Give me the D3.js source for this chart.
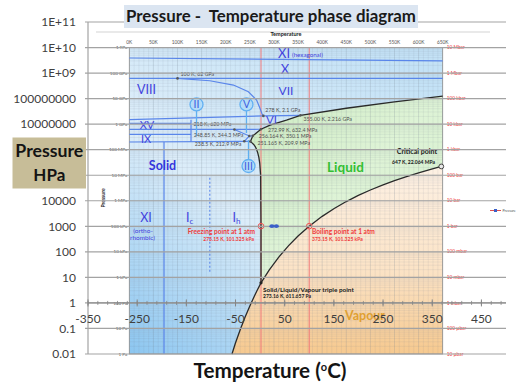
<!DOCTYPE html>
<html>
<head>
<meta charset="utf-8">
<script src="https://cdn.jsdelivr.net/npm/d3@7/dist/d3.min.js"></script>
<style>
  body { margin: 0; background: #fff; }
  svg { display: block; font-family: Lato, "Open Sans", sans-serif; }
</style>
</head>
<body>
<div id="chart"></div>
<script>
// ---- Excel chart axes (temperature in °C, pressure in hPa)
const yTickValues = [1e11, 1e10, 1e9, 1e8, 1e7, 1e6, 1e5, 1e4, 1e3, 100, 10, 1, 0.1, 0.01];
const yTickLabels = ["1E+11", "1E+10", "1E+09", "100000000", "10000000", "1000000", "100000",
                     "10000", "1000", "100", "10", "1", "0.1", "0.01"];
const xTickValues = [-350, -250, -150, -50, 50, 150, 250, 350, 450];

// Excel series "Pressure"
const seriesTemp = [24, 33];
const seriesPressure = [1013.25, 1013.25];

// ---- embedded phase diagram (kelvin, pascal)
const kelvinTicks = [0, 50, 100, 150, 200, 250, 300, 350, 400, 450, 500, 550, 600, 650];
const paTicks = [1e12, 1e11, 1e10, 1e9, 1e8, 1e7, 1e6, 1e5, 1e4, 1e3, 100, 10, 1];
const paLabels = ["1 TPa", "100 GPa", "10 GPa", "1 GPa", "100 MPa", "10 MPa", "1 MPa",
                  "100 kPa", "10 kPa", "1 kPa", "100 Pa", "10 Pa", "1 Pa"];
const barLabels = ["10 Mbar", "1 Mbar", "100 kbar", "10 kbar", "1 kbar", "100 bar", "10 bar",
                   "1 bar", "100 mbar", "10 mbar", "1 mbar", "100 µbar", "10 µbar"];

// solid / liquid boundary, from the triple point upwards
const meltK  = [273.16, 273.15, 272.4, 270.5, 268.7, 266.4, 264.2, 261.5, 258, 254.5, 251.165,
                256.164, 272.99, 292, 326, 355, 450, 550, 650];
const meltPa = [611.657, 101325, 1e7, 3e7, 5e7, 7.5e7, 1e8, 1.3e8, 1.6e8, 1.85e8, 2.099e8,
                3.501e8, 6.324e8, 9.2e8, 1.45e9, 2.216e9, 4.2e9, 7.5e9, 1.26e10];
// liquid / vapour boundary
const boilK  = [273.16, 290, 310, 330, 350, 373.15, 400, 425, 450, 475, 500, 525, 550, 575, 600, 625, 647.096];
const boilPa = [611.657, 1920, 6230, 17200, 41680, 101325, 245800, 500200, 932000, 1.618e6,
                2.639e6, 4.09e6, 6.12e6, 8.84e6, 12.34e6, 16.9e6, 22.064e6];
// solid / vapour boundary
const sublK  = [273.16, 265, 260, 250, 240, 230, 220, 213];
const sublPa = [611.657, 305, 195.8, 76, 27.3, 8.95, 2.65, 1];

// boundaries between ice phases
const iceLines = [
  [[0, 3.9e11], [650, 3.0e11]],
  [[0, 6.2e10], [650, 6.2e10]],
  [[100, 6.2e10], [167, 5.0e10], [216, 3.4e10], [247, 1.86e10], [264, 8.8e9], [271, 4.2e9], [275, 2.6e9], [278, 2.1e9]],
  [[0, 1.5e9], [278, 2.1e9], [355, 2.216e9]],
  [[0, 1.07e9], [128, 1.07e9]],
  [[0, 6.2e8], [218, 6.2e8], [272.99, 6.324e8]],
  [[218, 6.2e8], [248.85, 3.443e8], [256.164, 3.501e8]],
  [[0, 4.0e8], [128, 4.0e8]],
  [[0, 2.0e8], [238.5, 2.129e8], [251.165, 2.099e8]],
  [[238.5, 2.129e8], [248.85, 3.443e8]],
  [[128, 2.0e8], [128, 1.5e9]],
  [[72, 2.0e8], [72, 1]]
];
const icIhLine = [[167, 8e6], [167, 1.6e3]];

// labelled points
const pointK    = [100, 278, 355, 272.99, 256.164, 251.165, 218, 248.85, 238.5];
const pointPa   = [6.2e10, 2.1e9, 2.216e9, 6.324e8, 3.501e8, 2.099e8, 6.2e8, 3.443e8, 2.129e8];
const pointText = ["100 K, 62 GPa", "278 K, 2.1 GPa", "355.00 K, 2.216 GPa", "272.99 K, 632.4 MPa",
                   "256.164 K, 350.1 MPa", "251.165 K, 209.9 MPa", "218 K, 620 MPa",
                   "248.85 K, 344.3 MPa", "238.5 K, 212.9 MPa"];

// circled phase names with pointer lines
const circleText = ["II", "V", "III"];
const circleK    = [139.4, 243, 247.2];
const circlePa   = [5.9e9, 5.9e9, 2.3e7];
const pointerPa  = [3.4e8, 4.5e8, 2.4e8];

const triple   = [273.16, 611.657];
const critical = [647.096, 22.064e6];
const freezing = [273.15, 101325];
const boiling  = [373.15, 101325];

// ---------------------------------------------------------------
const W = 517, H = 388;
const svg = d3.select("#chart").append("svg").attr("width", W).attr("height", H);
const defs = svg.append("defs");

function gradient(id, x1, y1, x2, y2, stops) {
  const g = defs.append("linearGradient").attr("id", id)
    .attr("x1", x1).attr("y1", y1).attr("x2", x2).attr("y2", y2);
  stops.forEach(s => g.append("stop").attr("offset", s[0]).attr("stop-color", s[1]));
}
gradient("gSolid", 0, 1, 0.8, 0, [[0, "#8cc6f0"], [0.45, "#dcedf9"], [1, "#c4e2f6"]]);
gradient("gLiquid", 0, 0, 1, 1, [[0, "#cdebc2"], [0.5, "#def3d6"], [1, "#d3efca"]]);
gradient("gVapour", 0, 0, 0, 1, [[0, "#fdf1e4"], [0.55, "#fbe3c6"], [1, "#f6c98f"]]);

const x = d3.scaleLinear().domain([-350, 500]).range([88, 506]);
const y = d3.scaleLog().domain([0.01, 1e11]).range([354, 22]);
const kx = d3.scaleLinear().domain([0, 650]).range([129.3, 442.7]);
const py = pa => y(pa / 100);
const pts = (ks, ps) => ks.map((k, i) => [kx(k), py(ps[i])]);
const kline = d3.line().x(d => kx(d[0])).y(d => py(d[1]));

// ---- phase diagram picture
const img = svg.append("g");
const iL = kx(0), iR = kx(650), iT = py(1e12), iB = py(1);

defs.append("clipPath").attr("id", "imgClip").append("rect")
  .attr("x", iL).attr("y", iT).attr("width", iR - iL).attr("height", iB - iT);

img.append("line").attr("x1", 96).attr("x2", 490).attr("y1", 32).attr("y2", 32)
  .attr("stroke", "#c8c8c8").attr("stroke-width", 0.8);

img.append("rect").attr("x", iL).attr("y", iT).attr("width", iR - iL).attr("height", iB - iT)
  .attr("fill", "url(#gSolid)");

const meltPts = pts(meltK, meltPa);
const boilPts = pts(boilK, boilPa);
const sublPts = pts(sublK, sublPa);
const critPt = [kx(critical[0]), py(critical[1])];

const liquidPoly = meltPts.concat([[iR, py(meltPa[meltPa.length - 1])], [iR, critPt[1]]],
                                  boilPts.slice().reverse());
const vapourPoly = boilPts.concat([[iR, critPt[1]], [iR, iB]], sublPts.slice().reverse());
img.append("path").attr("d", "M" + liquidPoly.join("L") + "Z").attr("fill", "url(#gLiquid)");
img.append("path").attr("d", "M" + vapourPoly.join("L") + "Z").attr("fill", "url(#gVapour)");

// fine grid of the picture
const grid = img.append("g").attr("clip-path", "url(#imgClip)");
grid.selectAll("line.vk").data(d3.range(0, 651, 10)).join("line")
  .attr("x1", d => kx(d)).attr("x2", d => kx(d)).attr("y1", iT).attr("y2", iB)
  .attr("stroke", "#6f7f8c").attr("stroke-opacity", d => d % 50 === 0 ? 0.36 : 0.17).attr("stroke-width", 0.6);
const minorPa = [];
paTicks.slice(1).forEach(p => { for (let m = 1; m < 10; m++) minorPa.push(p * m); });
grid.selectAll("line.hp").data(minorPa).join("line")
  .attr("x1", iL).attr("x2", iR).attr("y1", d => py(d)).attr("y2", d => py(d))
  .attr("stroke", "#6f7f8c").attr("stroke-opacity", (d, i) => i % 9 === 0 ? 0.36 : 0.17).attr("stroke-width", 0.6);

// 0 °C and 100 °C
img.selectAll("line.red").data([freezing[0], boiling[0]]).join("line")
  .attr("x1", d => kx(d)).attr("x2", d => kx(d)).attr("y1", iT).attr("y2", iB)
  .attr("stroke", "#f07878").attr("stroke-width", 1);

img.append("rect").attr("x", iL).attr("y", iT).attr("width", iR - iL).attr("height", iB - iT)
  .attr("fill", "none").attr("stroke", "#8a8a8a").attr("stroke-width", 0.8);

// ice phase boundaries
img.append("g").selectAll("path").data(iceLines).join("path")
  .attr("d", kline).attr("fill", "none").attr("stroke", "#5a86ea").attr("stroke-width", 1.2);
img.append("path").attr("d", kline(icIhLine)).attr("fill", "none")
  .attr("stroke", "#5a86ea").attr("stroke-width", 1.1).attr("stroke-dasharray", "2,2");

// main boundaries
[meltPts, boilPts, sublPts].forEach(p => {
  img.append("path").attr("d", "M" + p.join("L")).attr("fill", "none")
    .attr("stroke", "#2a2a2a").attr("stroke-width", 1.3);
});

// pointers and circled labels
circleText.forEach((t, i) => {
  const cx = kx(circleK[i]), cy = py(circlePa[i]);
  img.append("line").attr("x1", cx).attr("x2", cx).attr("y1", cy).attr("y2", py(pointerPa[i]))
    .attr("stroke", "#5fb0f0").attr("stroke-width", 1.3);
  img.append("circle").attr("cx", cx).attr("cy", cy).attr("r", 6.5)
    .attr("fill", "#b4dcf8").attr("stroke", "#62b0f2").attr("stroke-width", 1.3);
  img.append("text").attr("x", cx).attr("y", cy + 3.8).attr("text-anchor", "middle")
    .attr("font-size", 10.5).attr("fill", "#3e5ee0").text(t);
});

// labelled points
const pointOffsets = [[3, -2, "start"], [2, -3.5, "start"], [3, 5.5, "start"], [7, 2.5, "start"],
                      [6, 2.2, "start"], [7, 3.5, "start"], [-3, -3.5, "end"], [-6, 1.5, "end"], [-3, 4.5, "end"]];
pointK.forEach((k, i) => {
  const px = kx(k), pyy = py(pointPa[i]);
  img.append("circle").attr("cx", px).attr("cy", pyy).attr("r", 1.3).attr("fill", "#555");
  img.append("text").attr("x", px + pointOffsets[i][0]).attr("y", pyy + pointOffsets[i][1])
    .attr("text-anchor", pointOffsets[i][2]).attr("font-size", 5.3).attr("fill", "#505050").text(pointText[i]);
});

img.append("circle").attr("cx", kx(triple[0])).attr("cy", py(triple[1])).attr("r", 1.6).attr("fill", "#222");
img.append("circle").attr("cx", critPt[0]).attr("cy", critPt[1]).attr("r", 2.4)
  .attr("fill", "#e8e8e8").attr("stroke", "#333").attr("stroke-width", 0.9);
[freezing, boiling].forEach(p => {
  img.append("circle").attr("cx", kx(p[0])).attr("cy", py(p[1])).attr("r", 2.8)
    .attr("fill", "none").attr("stroke", "#f05050").attr("stroke-width", 1);
});

function txt(g, xx, yy, s, size, color, opts = {}) {
  const t = g.append("text").attr("x", xx).attr("y", yy).attr("font-size", size).attr("fill", color)
    .attr("text-anchor", opts.anchor || "start").attr("font-weight", opts.bold ? "bold" : null).text(s);
  return t;
}

// point annotations
txt(img, 437, 154, "Critical point", 7, "#1a1a1a", {anchor: "end", bold: true});
txt(img, 435, 163.5, "647 K, 22.064 MPa", 5, "#1a1a1a", {anchor: "end", bold: true});
txt(img, 255, 233.5, "Freezing point at 1 atm", 6.6, "#f03a3a", {anchor: "end", bold: true});
txt(img, 254, 241, "273.15 K, 101.325 kPa", 5, "#f03a3a", {anchor: "end", bold: true});
txt(img, 312, 234, "Boiling point at 1 atm", 6.6, "#f03a3a", {bold: true});
txt(img, 312, 241, "373.15 K, 101.325 kPa", 5, "#f03a3a", {bold: true});
txt(img, 263, 291.5, "Solid/Liquid/Vapour triple point", 6.4, "#222", {bold: true});
txt(img, 263, 298, "273.16 K, 611.657 Pa", 5, "#222", {bold: true});

// phase names
const blue = "#4343de";
txt(img, 278, 58, "XI", 13, blue);
txt(img, 292, 57, "(hexagonal)", 6.2, blue);
txt(img, 285, 74, "X", 13, blue, {anchor: "middle"});
txt(img, 286, 94.5, "VII", 12, blue, {anchor: "middle"});
txt(img, 146.5, 93.5, "VIII", 12.5, blue, {anchor: "middle"});
txt(img, 147, 129.2, "XV", 11, blue, {anchor: "middle"});
txt(img, 146, 142.6, "IX", 11, blue, {anchor: "middle"});
txt(img, 271.5, 123.5, "VI", 11.5, blue, {anchor: "middle"});
txt(img, 162.5, 170, "Solid", 12.5, "#3535dc", {anchor: "middle", bold: true});
txt(img, 146, 222, "XI", 12.5, blue, {anchor: "middle"});
txt(img, 143, 232.5, "(ortho-", 6.5, blue, {anchor: "middle"});
txt(img, 142.5, 239.5, "rhombic)", 6.5, blue, {anchor: "middle"});
const ic = txt(img, 186, 222, "I", 12.5, blue);
ic.append("tspan").attr("font-size", 8).attr("dy", 2).text("c");
const ih = txt(img, 232.5, 222, "I", 12.5, blue);
ih.append("tspan").attr("font-size", 8).attr("dy", 2).text("h");
txt(img, 345.5, 171.5, "Liquid", 13.5, "#33bf33", {anchor: "middle", bold: true});
txt(img, 365, 319.5, "Vapour", 12.5, "#e0a032", {anchor: "middle", bold: true});

// picture axes
txt(img, (iL + iR) / 2, 36, "Temperature", 5.5, "#222", {anchor: "middle", bold: true});
kelvinTicks.forEach(k => txt(img, kx(k), 43.5, k + "K", 4.8, "#555", {anchor: "middle"}));
paTicks.forEach((p, i) => txt(img, iL - 2, py(p) + 1.6, paLabels[i], 4.6, "#555", {anchor: "end"}));
paTicks.forEach((p, i) => txt(img, iR + 4, py(p) + 1.6, barLabels[i], 4.8, "#ee4040"));
txt(img, 0, 0, "Pressure", 5, "#222", {anchor: "middle", bold: true})
  .attr("transform", "translate(105,198) rotate(-90)");

// ---- Excel chart on top
const chart = svg.append("g");
chart.selectAll("line.grid").data(yTickValues).join("line")
  .attr("x1", 85).attr("x2", 506).attr("y1", d => y(d)).attr("y2", d => y(d))
  .attr("stroke", "#a3a3a3").attr("stroke-width", 1.2);
chart.append("line").attr("x1", 88).attr("x2", 88).attr("y1", y(1e11)).attr("y2", y(0.01))
  .attr("stroke", "#a3a3a3").attr("stroke-width", 1.2);

// labels 1000000 and 100000 sit behind the axis-title box, so they are not drawn
const boxTop = 137.5, boxBottom = 188.5;
chart.selectAll("text.ylab").data(yTickValues.filter(d => y(d) < boxTop || y(d) > boxBottom)).join("text")
  .attr("x", 76).attr("y", d => y(d)).attr("dy", "0.36em").attr("text-anchor", "end")
  .attr("font-size", 12).attr("fill", "#404040").text(d => yTickLabels[yTickValues.indexOf(d)]);

const xAxisY = y(1);
chart.append("line").attr("x1", x(-350)).attr("x2", x(500)).attr("y1", xAxisY).attr("y2", xAxisY)
  .attr("stroke", "#868686").attr("stroke-width", 1);
chart.selectAll("line.minor").data(d3.range(-350, 501, 20)).join("line")
  .attr("x1", d => x(d)).attr("x2", d => x(d)).attr("y1", xAxisY - 2).attr("y2", xAxisY + 2)
  .attr("stroke", "#868686").attr("stroke-width", 0.8);
chart.selectAll("line.major").data(d3.range(-350, 501, 100)).join("line")
  .attr("x1", d => x(d)).attr("x2", d => x(d)).attr("y1", xAxisY - 3.5).attr("y2", xAxisY + 3.5)
  .attr("stroke", "#868686").attr("stroke-width", 1);
chart.selectAll("text.xlab").data(xTickValues).join("text")
  .attr("x", d => x(d)).attr("y", xAxisY + 20.5).attr("text-anchor", "middle")
  .attr("font-size", 12).attr("fill", "#404040").text(d => d);

// series "Pressure"
const series = seriesTemp.map((t, i) => [x(t), y(seriesPressure[i])]);
chart.append("path").attr("d", d3.line()(series)).attr("stroke", "#e05050").attr("fill", "none");
chart.selectAll("ellipse.pt").data(series).join("ellipse")
  .attr("cx", d => d[0]).attr("cy", d => d[1]).attr("rx", 2.6).attr("ry", 1.8).attr("fill", "#3a5fc8");

// legend
chart.append("line").attr("x1", 490).attr("x2", 501).attr("y1", 210.5).attr("y2", 210.5)
  .attr("stroke", "#e05050").attr("stroke-width", 1);
chart.append("rect").attr("x", 494).attr("y", 209).attr("width", 3).attr("height", 3).attr("fill", "#3a5fc8");
txt(chart, 502.5, 212, "Pressure", 3.5, "#555");

// title
svg.append("rect").attr("x", 124).attr("y", 5).attr("width", 294).attr("height", 23).attr("fill", "#dbe5f1");
function fit(t, w) {
  const len = t.node().getComputedTextLength();
  t.attr("font-size", parseFloat(t.attr("font-size")) * w / len);
  return t;
}
fit(txt(svg, 271, 21.7, "Pressure -  Temperature phase diagram", 16, "#1a1a1a", {anchor: "middle", bold: true})
  .style("white-space", "pre"), 290);

// y title box
svg.append("rect").attr("x", 12.5).attr("y", boxTop).attr("width", 73.5).attr("height", boxBottom - boxTop).attr("fill", "#c7bd98");
fit(txt(svg, 49.3, 157.3, "Pressure", 17, "#141414", {anchor: "middle", bold: true}), 68);
fit(txt(svg, 49.3, 180.5, "HPa", 17, "#141414", {anchor: "middle", bold: true}), 32);

// x title
const xt = txt(svg, 270, 378, "Temperature (", 18, "#141414", {anchor: "middle", bold: true});
xt.append("tspan").attr("font-size", 11).attr("dy", -7).text("o");
xt.append("tspan").attr("dy", 7).text("C)");
fit(xt, 154);
</script>
</body>
</html>
